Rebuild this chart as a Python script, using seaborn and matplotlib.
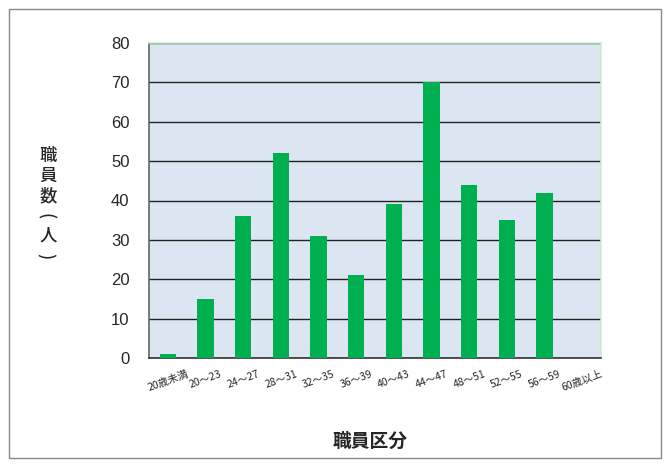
import pandas as pd
import seaborn as sns
import matplotlib.pyplot as plt
from matplotlib.patches import Rectangle
import numpy as np

# age groups and staff counts
categories = ['20歳未満', '20～23', '24～27', '28～31', '32～35', '36～39',
              '40～43', '44～47', '48～51', '52～55', '56～59', '60歳以上']
counts = [1, 15, 36, 52, 31, 21, 39, 70, 44, 35, 42, 0]
yticks = [0, 10, 20, 30, 40, 50, 60, 70, 80]

df = pd.DataFrame({'group': categories, 'count': counts})

sns.set_style('white')
plt.rcParams['font.family'] = ['Noto Sans CJK JP', 'DejaVu Sans']

fig = plt.figure(figsize=(6.7, 4.68), dpi=100)
ax = fig.add_axes([149 / 670, 1 - 358 / 468, 452 / 670, 315 / 468])
ax.set_facecolor('#DCE6F2')

sns.barplot(data=df, x='group', y='count', color='#00B050', width=0.43,
            saturation=1, linewidth=0, edgecolor='none', ax=ax, zorder=3)

ax.set_ylim(0, 80)
ax.set_xlim(-0.5, len(categories) - 0.5)
ax.set_yticks(yticks)
ax.set_yticklabels([str(t) for t in yticks], fontsize=12, family='Liberation Sans')
ax.yaxis.grid(True, color='#222222', linewidth=1, zorder=1)
ax.set_axisbelow(True)

# category labels at the centres, tick marks at the boundaries
ax.set_xticks(range(len(categories)))
ax.set_xticklabels(categories, rotation=20, fontsize=7.5, ha='center')
ax.tick_params(axis='x', length=0, pad=8)
ax.set_xticks(np.arange(len(categories) + 1) - 0.5, minor=True)
ax.tick_params(axis='x', which='minor', length=4, color='#333333', direction='out')
ax.tick_params(axis='y', length=4, color='#555555', direction='in', pad=14)

ax.spines['left'].set_color('#5a6e5a')
ax.spines['bottom'].set_color('#333333')
ax.spines['top'].set_color('#c6efce')
ax.spines['right'].set_color('#c6efce')
for s in ax.spines.values():
    s.set_linewidth(1.2)

ax.set_xlabel('')
ax.set_ylabel('')

# vertical y label, one character per line
ylabel_chars = ['職', '員', '数', '(', '人', ')']
for i, ch in enumerate(ylabel_chars):
    if ch in '()':
        xpos, rot = 45, -90
    else:
        xpos, rot = 48, 0
    fig.text(xpos / 670, 1 - (156 + 20 * i) / 468, ch, ha='center', va='center',
             fontsize=12.5, fontweight='medium', rotation=rot)
fig.text(370 / 670, 1 - 441 / 468, '職員区分', ha='center', va='center',
         fontsize=13.5, fontweight='bold')

# outer frame
fig.patches.append(Rectangle((9 / 670, 1 - 458 / 468), 652 / 670, 449 / 468,
                             transform=fig.transFigure, fill=False,
                             edgecolor='#888888', linewidth=1))

fig.savefig('out.png', dpi=100)
